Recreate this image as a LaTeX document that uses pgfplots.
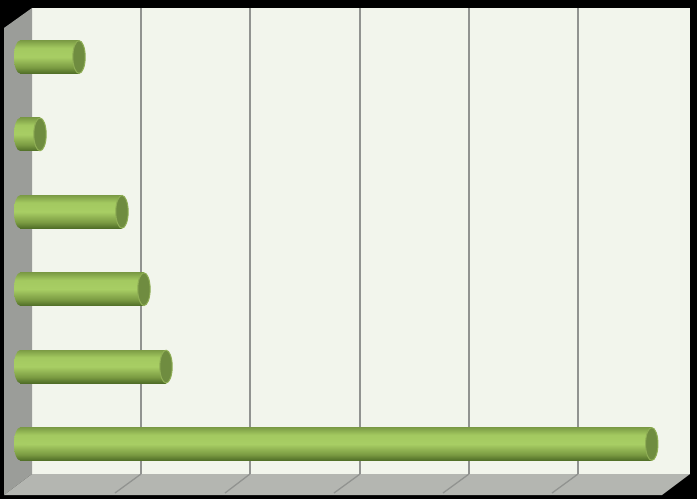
\documentclass[border=0pt]{standalone}
\usepackage{pgfplots}
\pgfplotsset{compat=1.18}
\definecolor{wallback}{HTML}{F2F5EC}
\definecolor{wallside}{HTML}{9B9D99}
\definecolor{wallfloor}{HTML}{B4B6B1}
\definecolor{gridgray}{HTML}{919390}
\definecolor{capface}{HTML}{6F8C40}
\definecolor{caprim}{HTML}{8FAE55}
\definecolor{cyla}{HTML}{4F6D27}
\definecolor{cylb}{HTML}{7A9A42}
\definecolor{cylc}{HTML}{A8CE64}
\definecolor{cyld}{HTML}{A3C960}
\definecolor{cyle}{HTML}{7C9C45}
% cylinder shading, bottom to top
\pgfdeclareverticalshading{barcyl}{100bp}{
  color(0bp)=(cyla);
  color(25bp)=(cyla);
  color(34bp)=(cylb);
  color(50bp)=(cylc);
  color(64bp)=(cyld);
  color(75bp)=(cyle);
  color(100bp)=(cyle)
}
\pgfdeclareplotmark{capright}{%
  \pgfpathellipse{\pgfpointorigin}{\pgfqpoint{6.2pt}{0pt}}{\pgfqpoint{0pt}{16.4pt}}%
  \pgfsetfillcolor{capface}\pgfsetstrokecolor{caprim}\pgfsetlinewidth{1pt}%
  \pgfusepath{fill,stroke}%
}
\pgfdeclareplotmark{capleft}{%
  \pgfpathellipse{\pgfpointorigin}{\pgfqpoint{6pt}{0pt}}{\pgfqpoint{0pt}{16.5pt}}%
  \pgfshadepath{barcyl}{0}\pgfusepath{discard}%
}
\begin{document}
\begin{tikzpicture}
\begin{axis}[
  scale only axis,
  width=697pt,height=499pt,
  xmin=-1.83,xmax=61.94,
  ymin=0.2894,ymax=6.7364,
  hide axis,
]
% background and walls
\addplot[fill=black,draw=none] coordinates {(-1.83,0.2894) (61.94,0.2894) (61.94,6.7364) (-1.83,6.7364)} -- cycle;
\addplot[fill=wallback,draw=none] coordinates {(1.098,0.612) (61.30,0.612) (61.30,6.633) (1.098,6.633)} -- cycle;
\addplot[fill=wallside,draw=none] coordinates {(1.098,6.633) (-1.464,6.375) (-1.464,0.341) (1.098,0.612)} -- cycle;
\addplot[fill=wallfloor,draw=none] coordinates {(1.098,0.612) (61.30,0.612) (58.74,0.341) (-1.464,0.341)} -- cycle;
% grid
\addplot[gridgray,line width=2.2pt] coordinates {(11.07,6.633) (11.07,0.612)};
\addplot[gridgray,line width=2.2pt] coordinates {(21.04,6.633) (21.04,0.612)};
\addplot[gridgray,line width=2.2pt] coordinates {(31.11,6.633) (31.11,0.612)};
\addplot[gridgray,line width=2.2pt] coordinates {(41.08,6.633) (41.08,0.612)};
\addplot[gridgray,line width=2.2pt] coordinates {(51.05,6.633) (51.05,0.612)};
\addplot[gridgray,line width=1.3pt] coordinates {(11.07,0.612) (8.69,0.367)};
\addplot[gridgray,line width=1.3pt] coordinates {(21.04,0.612) (18.76,0.367)};
\addplot[gridgray,line width=1.3pt] coordinates {(31.11,0.612) (28.73,0.367)};
\addplot[gridgray,line width=1.3pt] coordinates {(41.08,0.612) (38.70,0.367)};
\addplot[gridgray,line width=1.3pt] coordinates {(51.05,0.612) (48.68,0.367)};
% bars, one plot each so that each gets its own shading
\addplot[only marks,mark=capleft] coordinates {(0,1) (0,2) (0,3) (0,4) (0,5) (0,6)};
\addplot[xbar,bar width=33pt,bar shift=0pt,draw=none,shading=barcyl] coordinates {(57.8,1)};
\addplot[xbar,bar width=33pt,bar shift=0pt,draw=none,shading=barcyl] coordinates {(13.36,2)};
\addplot[xbar,bar width=33pt,bar shift=0pt,draw=none,shading=barcyl] coordinates {(11.34,3)};
\addplot[xbar,bar width=33pt,bar shift=0pt,draw=none,shading=barcyl] coordinates {(9.33,4)};
\addplot[xbar,bar width=33pt,bar shift=0pt,draw=none,shading=barcyl] coordinates {(1.83,5)};
\addplot[xbar,bar width=33pt,bar shift=0pt,draw=none,shading=barcyl] coordinates {(5.4,6)};
\addplot[only marks,mark=capright] coordinates {(57.8,1) (13.36,2) (11.34,3) (9.33,4) (1.83,5) (5.4,6)};
\end{axis}
\end{tikzpicture}
\end{document}
